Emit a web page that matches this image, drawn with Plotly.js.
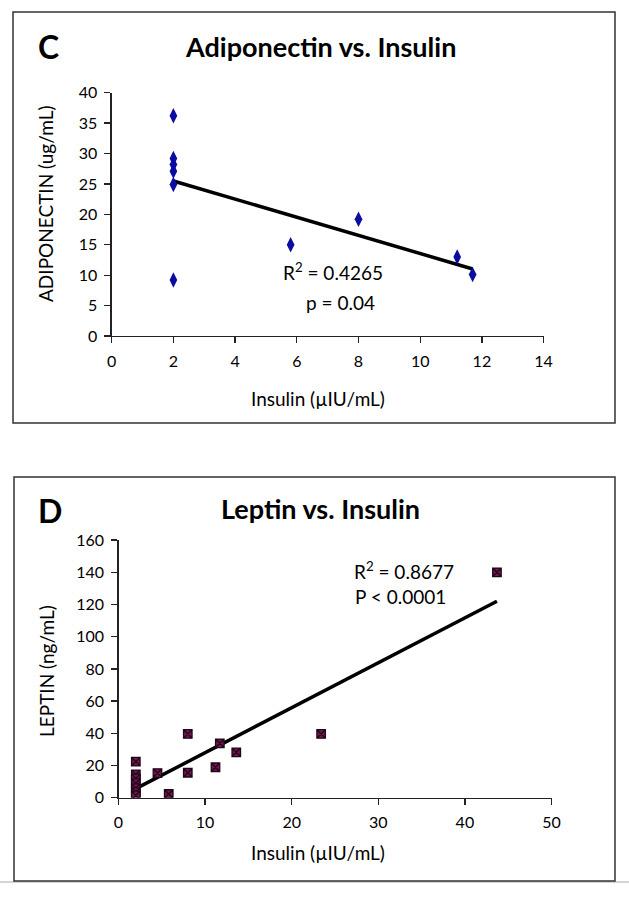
<!DOCTYPE html>
<html>
<head>
<meta charset="utf-8">
<script src="https://cdn.plot.ly/plotly-3.0.1.min.js"></script>
<style>
  html, body { margin: 0; padding: 0; background: #fff; }
  #plot { width: 629px; height: 899px; }
</style>
</head>
<body>
<div id="plot"></div>
<script>
// Panel C: adiponectin vs insulin
var adipoInsulin = [2, 2, 2, 2, 2, 2, 5.8, 8.0, 11.2, 11.7];
var adiponectin  = [36.2, 29.2, 28.2, 27.1, 24.9, 9.2, 15.0, 19.2, 13.0, 10.1];

// Panel D: leptin vs insulin
var leptinInsulin = [2, 2, 2, 2, 2, 2, 2, 4.5, 5.8, 8.0, 8.0, 11.2, 11.7, 13.6, 23.4, 43.7];
var leptin        = [22.4, 14.5, 12, 9, 6, 3.5, 1.5, 15.3, 2.3, 39.6, 15.5, 18.9, 33.8, 28.2, 39.6, 140];

var W = 629, H = 899;
var fontFam = 'Lato, "Open Sans", sans-serif';

// pixel -> paper helpers
function px(x) { return x / W; }
function py(y) { return 1 - y / H; }

// least squares trend line, like the Excel linear trendline
function trend(xs, ys) {
    var n = xs.length, mx = 0, my = 0;
    for (var i = 0; i < n; i++) { mx += xs[i]; my += ys[i]; }
    mx /= n; my /= n;
    var sxy = 0, sxx = 0;
    for (var i = 0; i < n; i++) {
        sxy += (xs[i] - mx) * (ys[i] - my);
        sxx += (xs[i] - mx) * (xs[i] - mx);
    }
    var slope = sxy / sxx, icpt = my - slope * mx;
    var x0 = Math.min.apply(null, xs), x1 = Math.max.apply(null, xs);
    return { x: [x0, x1], y: [icpt + slope * x0, icpt + slope * x1] };
}

var tC = trend(adipoInsulin, adiponectin);
var tD = trend(leptinInsulin, leptin);

var data = [
    { x: tC.x, y: tC.y, mode: 'lines', type: 'scatter', xaxis: 'x', yaxis: 'y',
      line: { color: '#000', width: 3.5 }, hoverinfo: 'skip' },
    { x: adipoInsulin, y: adiponectin, mode: 'markers', type: 'scatter', xaxis: 'x', yaxis: 'y',
      marker: { symbol: 'diamond-tall', size: 11, color: '#0c0ca0', line: { width: 0 } } },
    { x: tD.x, y: tD.y, mode: 'lines', type: 'scatter', xaxis: 'x2', yaxis: 'y2',
      line: { color: '#000', width: 3.5 }, hoverinfo: 'skip' },
    { x: leptinInsulin, y: leptin, mode: 'markers', type: 'scatter', xaxis: 'x2', yaxis: 'y2',
      marker: { symbol: 'square-x', size: 8.5, color: '#6e1a4a', line: { color: '#22051a', width: 1.3 } } }
];

var axisBase = {
    showgrid: false, zeroline: false, showline: true,
    linecolor: '#222', linewidth: 1.3, mirror: false,
    ticks: 'outside', ticklen: 6, tickwidth: 1.3, tickcolor: '#222',
    ticklabelstandoff: 4,
    tickfont: { family: fontFam, size: 16, color: '#000' },
    fixedrange: true
};

function ax(extra) { return Object.assign({}, axisBase, extra); }

var layout = {
    width: W, height: H,
    margin: { l: 0, r: 0, t: 0, b: 0 },
    paper_bgcolor: '#fff', plot_bgcolor: '#fff',
    showlegend: false,
    font: { family: fontFam, color: '#000' },
    xaxis:  ax({ domain: [px(111.7), px(543.6)], range: [0, 14], dtick: 2, anchor: 'y' }),
    yaxis:  ax({ domain: [py(336), py(92.7)], range: [0, 40], dtick: 5, anchor: 'x' }),
    xaxis2: ax({ domain: [px(118.5), px(551.5)], range: [0, 50], dtick: 10, anchor: 'y2' }),
    yaxis2: ax({ domain: [py(797.7), py(540.1)], range: [0, 160], dtick: 20, anchor: 'x2' }),
    shapes: [
        { type: 'line', xref: 'paper', yref: 'paper', x0: 0, x1: 1, y0: py(882), y1: py(882),
          line: { color: '#aaa', width: 1 } },
        { type: 'rect', xref: 'paper', yref: 'paper', x0: px(13), x1: px(615), y0: py(423), y1: py(12),
          line: { color: '#333', width: 1.5 }, fillcolor: 'rgba(0,0,0,0)' },
        { type: 'rect', xref: 'paper', yref: 'paper', x0: px(14), x1: px(615), y0: py(881), y1: py(477),
          line: { color: '#333', width: 1.5 }, fillcolor: 'rgba(0,0,0,0)' }
    ],
    annotations: [
        { text: '<b>C</b>', x: px(48), y: py(47), font: { size: 32 } },
        { text: '<b>Adiponectin vs. Insulin</b>', x: px(320), y: py(46), font: { size: 27 } },
        { text: 'ADIPONECTIN (ug/mL)', x: px(46), y: py(204), textangle: -90, font: { size: 19 } },
        { text: 'Insulin (µIU/mL)', x: px(318), y: py(398), font: { size: 19 } },
        { text: 'R<sup>2</sup> = 0.4265', x: px(333), y: py(272), font: { size: 19 } },
        { text: 'p = 0.04', x: px(340), y: py(302), font: { size: 19 } },

        { text: '<b>D</b>', x: px(50), y: py(511), font: { size: 32 } },
        { text: '<b>Leptin vs. Insulin</b>', x: px(320), y: py(508), font: { size: 27 } },
        { text: 'LEPTIN (ng/mL)', x: px(46), y: py(671), textangle: -90, font: { size: 19 } },
        { text: 'Insulin (µIU/mL)', x: px(318), y: py(852), font: { size: 19 } },
        { text: 'R<sup>2</sup> = 0.8677', x: px(404), y: py(570), font: { size: 19 } },
        { text: 'P &lt; 0.0001', x: px(400), y: py(596), font: { size: 19 } }
    ].map(function (a) {
        return Object.assign({ xref: 'paper', yref: 'paper', showarrow: false,
            xanchor: 'center', yanchor: 'middle' }, a,
            { font: Object.assign({ family: fontFam, color: '#000' }, a.font) });
    })
};

Plotly.newPlot('plot', data, layout, { staticPlot: true, displayModeBar: false });
</script>
</body>
</html>
